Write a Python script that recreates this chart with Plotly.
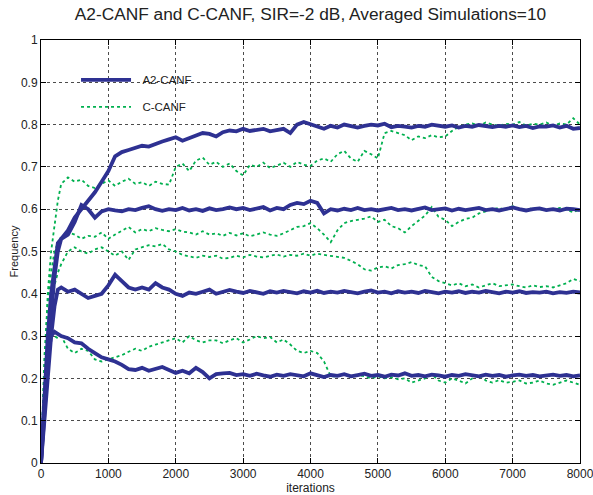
import plotly.graph_objects as go

iterations = [0, 50, 100, 150, 200, 250] + list(range(300, 8001, 100))

a2_top = [0, 0.15, 0.30, 0.40, 0.47, 0.52, 0.53, 0.55, 0.58, 0.60, 0.62, 0.64, 0.665, 0.69, 0.725, 0.735, 0.74, 0.745, 0.75, 0.748,
          0.755, 0.76, 0.765, 0.77, 0.762, 0.768, 0.775, 0.78, 0.778, 0.772, 0.782, 0.786, 0.784, 0.79, 0.785, 0.787, 0.79, 0.784,
          0.788, 0.79, 0.78, 0.80, 0.806, 0.80, 0.795, 0.79, 0.797, 0.793, 0.80, 0.796, 0.793, 0.797, 0.80, 0.798, 0.802, 0.794,
          0.797, 0.795, 0.793, 0.797, 0.795, 0.80, 0.797, 0.795, 0.798, 0.793, 0.797, 0.795, 0.799, 0.797, 0.794, 0.797, 0.795,
          0.798, 0.794, 0.797, 0.792, 0.796, 0.795, 0.798, 0.793, 0.797, 0.79, 0.792]
a2_second = [0, 0.12, 0.25, 0.35, 0.44, 0.50, 0.53, 0.54, 0.57, 0.61, 0.60, 0.58, 0.595, 0.60, 0.597, 0.595, 0.60, 0.598, 0.603,
             0.607, 0.60, 0.596, 0.60, 0.598, 0.603, 0.597, 0.60, 0.596, 0.602, 0.598, 0.60, 0.604, 0.60, 0.603, 0.598, 0.601,
             0.605, 0.597, 0.603, 0.60, 0.61, 0.615, 0.612, 0.62, 0.615, 0.59, 0.60, 0.597, 0.601, 0.598, 0.603, 0.598, 0.60,
             0.597, 0.60, 0.603, 0.598, 0.60, 0.597, 0.601, 0.604, 0.598, 0.60, 0.602, 0.597, 0.601, 0.598, 0.60, 0.603, 0.598,
             0.60, 0.597, 0.601, 0.604, 0.60, 0.597, 0.60, 0.602, 0.598, 0.60, 0.597, 0.601, 0.60, 0.598]
a2_third = [0, 0.10, 0.20, 0.30, 0.37, 0.41, 0.415, 0.405, 0.41, 0.40, 0.39, 0.395, 0.40, 0.42, 0.445, 0.43, 0.415, 0.41, 0.415,
            0.41, 0.425, 0.415, 0.41, 0.40, 0.395, 0.403, 0.40, 0.405, 0.41, 0.40, 0.405, 0.409, 0.405, 0.402, 0.407, 0.404,
            0.40, 0.406, 0.403, 0.407, 0.404, 0.401, 0.406, 0.403, 0.407, 0.402, 0.405, 0.403, 0.407, 0.404, 0.401, 0.405,
            0.408, 0.403, 0.405, 0.401, 0.406, 0.403, 0.405, 0.402, 0.407, 0.404, 0.401, 0.405, 0.403, 0.406, 0.402, 0.405,
            0.403, 0.407, 0.404, 0.401, 0.405, 0.403, 0.406, 0.402, 0.404, 0.403, 0.405, 0.401, 0.404, 0.402, 0.405, 0.403]
a2_fourth = [0, 0.15, 0.25, 0.30, 0.31, 0.305, 0.30, 0.295, 0.285, 0.283, 0.27, 0.26, 0.25, 0.245, 0.24, 0.232, 0.222, 0.22,
             0.225, 0.218, 0.223, 0.227, 0.22, 0.213, 0.218, 0.212, 0.225, 0.215, 0.20, 0.21, 0.212, 0.213, 0.208, 0.21,
             0.206, 0.211, 0.207, 0.204, 0.209, 0.206, 0.21, 0.207, 0.205, 0.212, 0.207, 0.203, 0.208, 0.206, 0.21, 0.205,
             0.208, 0.211, 0.206, 0.208, 0.204, 0.209, 0.207, 0.212, 0.206, 0.208, 0.205, 0.209, 0.207, 0.204, 0.208, 0.206,
             0.21, 0.207, 0.205, 0.209, 0.206, 0.208, 0.204, 0.207, 0.209, 0.206, 0.208, 0.205, 0.207, 0.209, 0.206, 0.208,
             0.205, 0.207]

c_top = [0, 0.20, 0.40, 0.50, 0.56, 0.62, 0.66, 0.675, 0.665, 0.67, 0.655, 0.65, 0.66, 0.668, 0.655, 0.665, 0.672, 0.66, 0.664,
         0.655, 0.665, 0.66, 0.658, 0.70, 0.708, 0.69, 0.715, 0.722, 0.705, 0.712, 0.70, 0.708, 0.69, 0.68, 0.705, 0.70, 0.71,
         0.697, 0.703, 0.71, 0.70, 0.712, 0.705, 0.702, 0.715, 0.72, 0.712, 0.73, 0.738, 0.72, 0.712, 0.738, 0.73, 0.72, 0.78,
         0.785, 0.78, 0.775, 0.763, 0.772, 0.768, 0.775, 0.77, 0.772, 0.785, 0.795, 0.80, 0.803, 0.797, 0.805, 0.80, 0.797,
         0.802, 0.80, 0.806, 0.798, 0.802, 0.80, 0.805, 0.797, 0.803, 0.80, 0.815, 0.80]
c_second = [0, 0.25, 0.38, 0.45, 0.50, 0.52, 0.53, 0.545, 0.54, 0.53, 0.537, 0.535, 0.545, 0.53, 0.54, 0.55, 0.558, 0.545, 0.553,
            0.548, 0.555, 0.551, 0.548, 0.553, 0.547, 0.545, 0.54, 0.548, 0.54, 0.543, 0.537, 0.544, 0.538, 0.543, 0.536, 0.54,
            0.545, 0.54, 0.537, 0.543, 0.55, 0.558, 0.56, 0.567, 0.555, 0.54, 0.522, 0.55, 0.567, 0.572, 0.575, 0.578, 0.583,
            0.57, 0.575, 0.56, 0.555, 0.545, 0.56, 0.572, 0.585, 0.605, 0.582, 0.575, 0.56, 0.57, 0.577, 0.58, 0.59, 0.595, 0.60,
            0.603, 0.598, 0.607, 0.60, 0.598, 0.603, 0.60, 0.597, 0.60, 0.603, 0.598, 0.593, 0.60]
c_third = [0, 0.20, 0.30, 0.36, 0.42, 0.45, 0.47, 0.50, 0.51, 0.50, 0.495, 0.505, 0.51, 0.50, 0.49, 0.50, 0.48, 0.505, 0.51,
           0.515, 0.512, 0.518, 0.505, 0.50, 0.492, 0.488, 0.485, 0.49, 0.487, 0.49, 0.483, 0.485, 0.49, 0.486, 0.492, 0.488,
           0.486, 0.49, 0.493, 0.488, 0.492, 0.49, 0.495, 0.49, 0.495, 0.492, 0.49, 0.488, 0.485, 0.478, 0.47, 0.458, 0.455,
           0.462, 0.465, 0.46, 0.468, 0.47, 0.475, 0.468, 0.465, 0.44, 0.43, 0.425, 0.42, 0.425, 0.418, 0.422, 0.415, 0.42,
           0.425, 0.418, 0.42, 0.422, 0.418, 0.415, 0.42, 0.416, 0.418, 0.415, 0.42, 0.425, 0.435, 0.43]
c_fourth = [0, 0.22, 0.28, 0.30, 0.30, 0.295, 0.30, 0.27, 0.26, 0.27, 0.265, 0.245, 0.24, 0.245, 0.25, 0.255, 0.263, 0.27, 0.265,
            0.275, 0.28, 0.285, 0.29, 0.295, 0.285, 0.30, 0.29, 0.285, 0.29, 0.29, 0.283, 0.29, 0.295, 0.285, 0.292, 0.30,
            0.295, 0.298, 0.285, 0.292, 0.28, 0.265, 0.26, 0.265, 0.26, 0.24, 0.205, 0.205, 0.21, 0.203, 0.208, 0.205, 0.20,
            0.205, 0.20, 0.203, 0.198, 0.20, 0.19, 0.195, 0.20, 0.21, 0.195, 0.19, 0.20, 0.195, 0.188, 0.20, 0.21, 0.195, 0.19,
            0.196, 0.19, 0.192, 0.195, 0.188, 0.19, 0.195, 0.188, 0.185, 0.19, 0.195, 0.19, 0.185]

x_ticks = [0, 1000, 2000, 3000, 4000, 5000, 6000, 7000, 8000]
y_ticks = [0, 0.1, 0.2, 0.3, 0.4, 0.5, 0.6, 0.7, 0.8, 0.9, 1]
y_tick_labels = ["0", "0.1", "0.2", "0.3", "0.4", "0.5", "0.6", "0.7", "0.8", "0.9", "1"]

BLUE = "#2e3192"
GREEN = "#00b04f"
FONT = "Liberation Sans, Arial, sans-serif"
PAD = "\u00a0\u00a0"

fig = go.Figure()

for i, ys in enumerate([c_top, c_second, c_third, c_fourth]):
    fig.add_trace(go.Scatter(x=iterations, y=ys, mode="lines", name=PAD + "C-CANF",
                             legendgroup="c", legendrank=2, showlegend=(i == 0),
                             line=dict(color=GREEN, width=1.8, dash="dot")))

for i, ys in enumerate([a2_top, a2_second, a2_third, a2_fourth]):
    fig.add_trace(go.Scatter(x=iterations, y=ys, mode="lines", name=PAD + "A2-CANF",
                             legendgroup="a", legendrank=1, showlegend=(i == 0),
                             line=dict(color=BLUE, width=3.8)))

axis_common = dict(showline=True, linecolor="black", linewidth=1, mirror="allticks",
                   ticks="inside", ticklen=5, tickcolor="black", automargin=False,
                   ticklabeloverflow="allow",
                   showgrid=True, gridcolor="rgba(0,0,0,0.7)", griddash="dot", gridwidth=1,
                   zeroline=False, tickfont=dict(family=FONT, size=12, color="#222"))

fig.update_xaxes(range=[0, 8000], tickvals=x_ticks, ticktext=[str(t) for t in x_ticks],
                 title=dict(text="iterations", font=dict(family=FONT, size=12, color="#222"), standoff=0),
                 **axis_common)
fig.update_yaxes(range=[0, 1], tickvals=y_ticks, ticktext=y_tick_labels,
                 title=dict(text="Frequency", font=dict(family=FONT, size=11, color="#222"), standoff=0),
                 **axis_common)

fig.update_layout(
    width=593, height=495,
    margin=dict(l=41, r=13, t=40, b=32, autoexpand=False),
    paper_bgcolor="white", plot_bgcolor="white",
    title=dict(text="A2-CANF and C-CANF, SIR=-2 dB, Averaged Simulations=10",
               x=0.5, xref="paper", y=1 - 14 / 495, yref="container", yanchor="middle",
               font=dict(family=FONT, size=17.3, color="#222")),
    legend=dict(x=0.065, y=0.94, xanchor="left", yanchor="top", bgcolor="rgba(0,0,0,0)",
                borderwidth=0, tracegroupgap=8, itemwidth=50,
                font=dict(family=FONT, size=11.5, color="#222"),
                traceorder="grouped"),
    showlegend=True,
)

fig.write_html("out.html", config={"displayModeBar": False},
               post_script="document.body.style.margin='0';document.body.style.overflow='hidden';")
